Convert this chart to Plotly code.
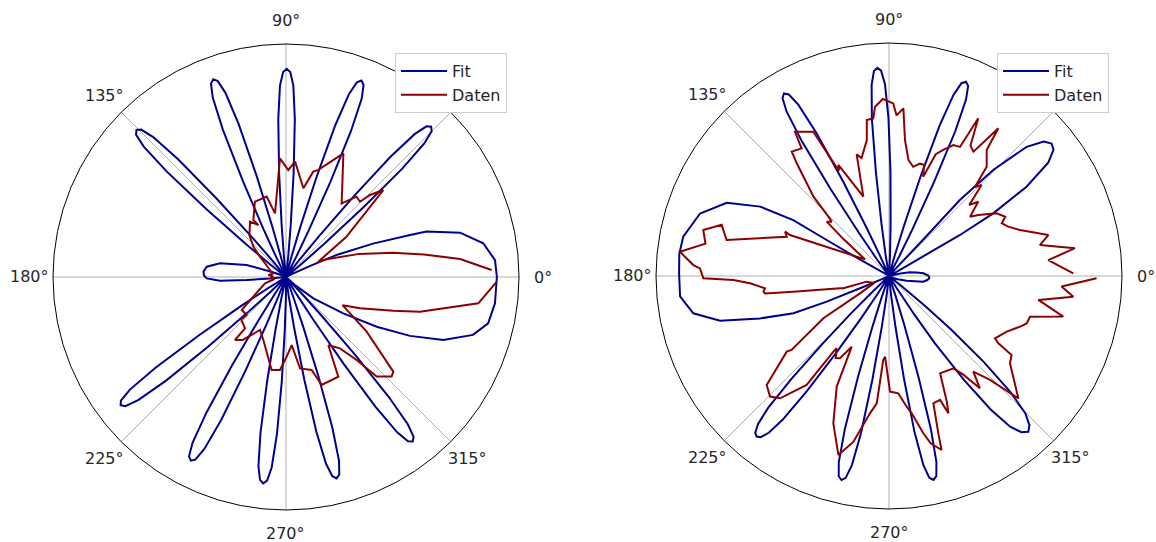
import math
import plotly.graph_objects as go

# ---------------- left panel ----------------
# Fit curve, (angle in degrees, radius) vertices in drawing order
fit_left = [
    (0, 0.905), (4.6, 0.90), (9.7, 0.859), (14.3, 0.771), (17.9, 0.634), (18.7, 0.562),
    (21, 0.40), (23.5, 0.24), (24.5, 0.12), (26, 0.03), (30, 0),
    (40, 0.09), (41, 0.224), (42, 0.449), (43, 0.682), (44, 0.825), (45, 0.884), (46, 0.897),
    (47, 0.884), (48, 0.825), (49, 0.682), (50, 0.449), (51, 0.224), (52, 0.09), (57.5, 0),
    (63, 0.09), (64, 0.226), (65, 0.452), (66, 0.686), (67, 0.831), (68, 0.889), (69, 0.903),
    (70, 0.889), (71, 0.831), (72, 0.686), (73, 0.452), (74, 0.226), (75, 0.09), (79.5, 0),
    (83.8, 0.089), (84.8, 0.223), (85.8, 0.447), (86.8, 0.679), (87.8, 0.822), (88.8, 0.88), (89.8, 0.893),
    (90.8, 0.88), (91.8, 0.822), (92.8, 0.679), (93.8, 0.447), (94.8, 0.223), (95.8, 0.089), (100, 0),
    (104.2, 0.09), (105.2, 0.226), (106.2, 0.452), (107.2, 0.687), (108.2, 0.832), (109.2, 0.89), (110.2, 0.904),
    (111.2, 0.89), (112.2, 0.832), (113.2, 0.687), (114.2, 0.452), (115.2, 0.226), (116.2, 0.09), (123, 0),
    (129.5, 0.09), (130.5, 0.225), (131.5, 0.45), (132.5, 0.684), (133.5, 0.828), (134.5, 0.887), (135.5, 0.90),
    (136.5, 0.887), (137.5, 0.828), (138.5, 0.684), (139.5, 0.45), (140.5, 0.225), (141.5, 0.09), (150, 0),
    (158, 0.02), (160, 0.06), (163, 0.177), (168.3, 0.289), (172.6, 0.343), (176.3, 0.355), (179, 0.352),
    (181, 0.34), (183.2, 0.284), (184.4, 0.169), (185.5, 0.07), (188, 0.01), (197, 0),
    (211.8, 0.09), (212.8, 0.225), (213.8, 0.449), (214.8, 0.682), (215.8, 0.826), (216.8, 0.885), (217.8, 0.898),
    (218.8, 0.885), (219.8, 0.826), (220.8, 0.682), (221.8, 0.449), (222.8, 0.225), (223.8, 0.09), (230, 0),
    (236.6, 0.089), (237.6, 0.222), (238.6, 0.444), (239.6, 0.675), (240.6, 0.817), (241.6, 0.875), (242.6, 0.888),
    (243.6, 0.875), (244.6, 0.817), (245.6, 0.675), (246.6, 0.444), (247.6, 0.222), (248.6, 0.089), (253, 0),
    (257.7, 0.089), (258.7, 0.223), (259.7, 0.446), (260.7, 0.677), (261.7, 0.82), (262.7, 0.878), (263.7, 0.891),
    (264.7, 0.878), (265.7, 0.82), (266.7, 0.677), (267.7, 0.446), (268.7, 0.223), (269.7, 0.089), (274, 0),
    (278.1, 0.089), (279.1, 0.223), (280.1, 0.446), (281.1, 0.677), (282.1, 0.82), (283.1, 0.878), (284.1, 0.891),
    (285.1, 0.878), (286.1, 0.82), (287.1, 0.677), (288.1, 0.446), (289.1, 0.223), (290.1, 0.089), (296, 0),
    (301.6, 0.089), (302.6, 0.223), (303.6, 0.446), (304.6, 0.677), (305.6, 0.82), (306.6, 0.878), (307.6, 0.891),
    (308.6, 0.878), (309.6, 0.82), (310.6, 0.677), (311.6, 0.446), (312.6, 0.223), (313.6, 0.089), (316, 0),
    (318, 0.05), (322, 0.149), (327.6, 0.291), (331.3, 0.444), (334.6, 0.589), (338.2, 0.727),
    (342.8, 0.84), (347.1, 0.89), (352.8, 0.904), (360, 0.905),
]

# Measured data (open curve, not closed at 0 deg)
data_left_theta = [
    1.95, 5.9, 9.3, 12.8, 17.5, 23.5, 25.2, 33.6, 41.8, 44.3, 45.5, 48.7, 52.9, 65.1,
    73.2, 75.5, 78.9, 85.5, 88.8, 92.9, 99.8, 103.5, 112.4, 119.8, 118.0, 123.0, 131.1,
    137.1, 142.0, 156.4, 166.0, 173.5, 178.0, 184.0, 190.0, 196.8, 211.0, 216.7, 224.0,
    223.5, 231.4, 231.0, 235.5, 243.9, 250.2, 261.2, 266.3, 270.5, 274.8, 278.7, 285.4,
    288.3, 297.7, 301.8, 307.1, 310.4, 312.3, 316.7, 318.6, 325.9, 333.5, 337.1, 342.6,
    345.5, 352.2, 358.7,
]
data_left_r = [
    0.883, 0.751, 0.60, 0.47, 0.33, 0.19, 0.152, 0.31, 0.56, 0.504, 0.453, 0.459, 0.396, 0.585,
    0.48, 0.467, 0.388, 0.497, 0.459, 0.51, 0.277, 0.355, 0.35, 0.282, 0.253, 0.283, 0.239,
    0.191, 0.142, 0.075, 0.06, 0.076, 0.055, 0.065, 0.05, 0.094, 0.164, 0.237, 0.235,
    0.265, 0.282, 0.348, 0.328, 0.253, 0.287, 0.404, 0.40, 0.342, 0.293, 0.397, 0.414,
    0.488, 0.483, 0.345, 0.384, 0.468, 0.578, 0.623, 0.614, 0.418, 0.271, 0.345, 0.483,
    0.594, 0.833, 0.904,
]

# ---------------- right panel ----------------
fit_right = [
    (0, 0.172), (4.4, 0.148), (7, 0.12), (9.9, 0.091), (12, 0.05), (15, 0.01), (22, 0),
    (29.5, 0.05), (30, 0.35), (31, 0.522), (33, 0.704), (35.5, 0.84), (37.5, 0.89), (39.2, 0.90),
    (41, 0.88), (43.2, 0.81), (45.5, 0.638), (47, 0.446), (46.8, 0.234), (47.5, 0.05), (55, 0),
    (62.4, 0.09), (63.4, 0.224), (64.4, 0.449), (65.4, 0.682), (66.4, 0.825), (67.4, 0.884), (68.4, 0.897),
    (69.4, 0.884), (70.4, 0.825), (71.4, 0.682), (72.4, 0.449), (73.4, 0.224), (74.4, 0.09), (81, 0),
    (87.2, 0.09), (88.2, 0.224), (89.2, 0.448), (90.2, 0.68), (91.2, 0.823), (92.2, 0.882), (93.2, 0.895),
    (94.2, 0.882), (95.2, 0.823), (96.2, 0.68), (97.2, 0.448), (98.2, 0.224), (99.2, 0.09), (106.5, 0),
    (113.9, 0.09), (114.9, 0.226), (115.9, 0.452), (116.9, 0.687), (117.9, 0.832), (118.9, 0.89), (119.9, 0.904),
    (120.9, 0.89), (121.9, 0.832), (122.9, 0.687), (123.9, 0.452), (124.9, 0.226), (125.9, 0.09), (135, 0),
    (148, 0.02), (150.5, 0.142), (150, 0.309), (149.7, 0.476), (151.7, 0.628), (155.7, 0.764), (161.7, 0.854),
    (169.2, 0.899), (174, 0.905), (179.3, 0.901), (185.6, 0.901), (190.8, 0.855), (194.8, 0.75),
    (198.2, 0.583), (201.3, 0.44), (202.4, 0.289), (203, 0.135), (204, 0.03), (215, 0),
    (223.5, 0.09), (224.5, 0.223), (225.5, 0.402), (226.5, 0.607), (227.5, 0.768), (228.5, 0.848), (229.5, 0.884),
    (230.5, 0.893), (231.5, 0.884), (232.5, 0.848), (233.5, 0.768), (234.5, 0.607), (235.5, 0.402),
    (236.5, 0.223), (237.5, 0.09), (243.7, 0),
    (250.9, 0.09), (251.9, 0.225), (252.9, 0.45), (253.9, 0.683), (254.9, 0.827), (255.9, 0.886), (256.9, 0.899),
    (257.9, 0.886), (258.9, 0.827), (259.9, 0.683), (260.9, 0.45), (261.9, 0.225), (262.9, 0.09), (269.6, 0),
    (276.3, 0.09), (277.3, 0.224), (278.3, 0.448), (279.3, 0.681), (280.3, 0.824), (281.3, 0.883), (282.3, 0.896),
    (283.3, 0.883), (284.3, 0.824), (285.3, 0.681), (286.3, 0.448), (287.3, 0.224), (288.3, 0.09), (297, 0),
    (302.3, 0.06), (303.3, 0.2), (304.3, 0.35), (305.8, 0.55), (307.3, 0.72), (308.8, 0.83), (310.3, 0.879),
    (311.8, 0.897), (313.3, 0.879), (314.8, 0.83), (316.3, 0.72), (317.8, 0.55), (319.3, 0.35),
    (320.3, 0.2), (321.3, 0.06), (328, 0),
    (335, 0.02), (340, 0.04), (345.2, 0.078), (350.6, 0.149), (354, 0.165), (356.7, 0.173), (360, 0.172),
]

data_right_theta = [
    0.8, 5.7, 8.5, 11.6, 14.4, 19.3, 22.5, 25.0, 27.0, 30.2, 34.3, 36.2, 39.8, 41.5, 44.5,
    46.0, 48.2, 52.2, 53.5, 55.8, 58.0, 60.5, 61.2, 63.8, 66.7, 69.0, 71.0, 72.5, 74.6, 77.5,
    80.5, 83.3, 85.1, 87.3, 88.6, 92.0, 94.7, 95.7, 98.1, 99.3, 103.1, 104.9, 107.9, 114.5,
    115.5, 117.7, 120.7, 123.1, 124.4, 128.0, 129.3, 133.6, 135.6, 136.5, 138.9, 141.0, 145.2,
    157.5, 156.9, 159.0, 167.5, 163.0, 166.1, 170.0, 173.4, 176.8, 177.7, 180.7, 181.5, 183.0,
    185.7, 187.1, 188.0, 189.3, 194.1, 195.1, 194.2, 205.0, 210.9, 212.8, 217.2, 216.5, 221.7,
    225.4, 228.3, 232.9, 233.7, 234.1, 237.0, 239.2, 242.2, 244.7, 249.3, 254.2, 257.9, 262.1,
    264.5, 266.1, 267.2, 270.5, 274.5, 277.7, 279.4, 282.3, 284.0, 286.8, 287.4, 289.2, 292.4,
    293.4, 294.7, 297.7, 304.9, 307.0, 309.0, 311.4, 314.2, 316.6, 324.2, 327.2, 328.4, 329.5,
    334.7, 338.9, 341.0, 343.9, 346.9, 350.9, 353.6, 356.5, 359.4,
]
data_right_r = [
    0.791, 0.687, 0.807, 0.661, 0.706, 0.596, 0.554, 0.534, 0.56, 0.535, 0.464, 0.431, 0.499, 0.46, 0.557,
    0.53, 0.629, 0.684, 0.789, 0.645, 0.66, 0.778, 0.632, 0.626, 0.589, 0.56, 0.451, 0.50, 0.50, 0.48,
    0.505, 0.588, 0.722, 0.69, 0.741, 0.76, 0.729, 0.68, 0.676, 0.59, 0.52, 0.54, 0.358, 0.524,
    0.50, 0.699, 0.72, 0.739, 0.664, 0.678, 0.625, 0.47, 0.364, 0.339, 0.355, 0.25, 0.125,
    0.46, 0.485, 0.47, 0.714, 0.751, 0.821, 0.80, 0.903, 0.841, 0.812, 0.797, 0.668, 0.597,
    0.535, 0.543, 0.537, 0.416, 0.217, 0.203, 0.099, 0.07, 0.145, 0.335, 0.525, 0.546, 0.703,
    0.727, 0.703, 0.586, 0.403, 0.383, 0.42, 0.411, 0.343, 0.525, 0.676, 0.798, 0.727, 0.595,
    0.549, 0.361, 0.347, 0.496, 0.505, 0.566, 0.597, 0.691, 0.74, 0.78, 0.708, 0.579, 0.575,
    0.642, 0.594, 0.472, 0.483, 0.53, 0.62, 0.547, 0.622, 0.764, 0.64, 0.626, 0.551, 0.528,
    0.559, 0.603, 0.625, 0.63, 0.768, 0.649, 0.796, 0.742, 0.891,
]

# Angular tick labels (the 45 deg label sits under the legend box)
tick_angles = [0, 45, 90, 135, 180, 225, 270, 315]
tick_labels = ["0°", "", "90°", "135°", "180°", "225°", "270°", "315°"]

FIT_COLOR = "#00008b"
DATA_COLOR = "#8b0000"
FONT = "DejaVu Sans"
TEXT_COLOR = "#262626"
W, H = 1156, 542

# Polar panels: centre (px) and outer radius (px)
panels = [
    dict(cx=286, cy=277, R=233, polar="polar", legend="legend", legx=395),
    dict(cx=889, cy=276, R=233, polar="polar2", legend="legend2", legx=997),
]
LABEL_RADIUS = 1.103  # tick label centres, in units of the outer radius

fig = go.Figure()


def add_panel(fit_pairs, d_theta, d_r, subplot, legend):
    f_theta = [p[0] for p in fit_pairs]
    f_r = [p[1] for p in fit_pairs]
    fig.add_trace(go.Scatterpolar(theta=f_theta, r=f_r, mode="lines", name="Fit",
                                  line=dict(color=FIT_COLOR, width=2),
                                  subplot=subplot, legend=legend))
    fig.add_trace(go.Scatterpolar(theta=d_theta, r=d_r, mode="lines", name="Daten",
                                  line=dict(color=DATA_COLOR, width=2),
                                  subplot=subplot, legend=legend))


add_panel(fit_left, data_left_theta, data_left_r, "polar", "legend")
add_panel(fit_right, data_right_theta, data_right_r, "polar2", "legend2")


def polar_layout(p):
    cx, cy, R = p["cx"], p["cy"], p["R"]
    return dict(
        domain=dict(x=[(cx - R) / W, (cx + R) / W], y=[1 - (cy + R) / H, 1 - (cy - R) / H]),
        bgcolor="white",
        angularaxis=dict(
            rotation=0, direction="counterclockwise",
            tickmode="array", tickvals=tick_angles,
            showticklabels=False, ticks="",
            showline=True, linecolor="black", linewidth=1,
            showgrid=True, gridcolor="#b0b0b0", gridwidth=1,
        ),
        radialaxis=dict(visible=False, range=[0, 1], showgrid=False),
    )


def legend_layout(x, y):
    return dict(
        x=x / W, y=1 - y / H, xanchor="left", yanchor="top",
        bgcolor="white", bordercolor="#cccccc", borderwidth=1,
        font=dict(family=FONT, size=16, color=TEXT_COLOR),
        tracegroupgap=0, itemwidth=46,
    )


annotations = []
for p in panels:
    for ang, lab in zip(tick_angles, tick_labels):
        if not lab:
            continue
        a = math.radians(ang)
        px = p["cx"] + LABEL_RADIUS * p["R"] * math.cos(a)
        py = p["cy"] - LABEL_RADIUS * p["R"] * math.sin(a)
        annotations.append(dict(
            text=lab, x=px / W, y=1 - py / H, xref="paper", yref="paper",
            xanchor="center", yanchor="middle", showarrow=False,
            font=dict(family=FONT, size=16, color=TEXT_COLOR),
        ))

fig.update_layout(
    width=W, height=H,
    margin=dict(l=0, r=0, t=0, b=0),
    paper_bgcolor="white",
    font=dict(family=FONT, size=16, color=TEXT_COLOR),
    polar=polar_layout(panels[0]),
    polar2=polar_layout(panels[1]),
    legend=legend_layout(panels[0]["legx"], 53),
    legend2=legend_layout(panels[1]["legx"], 53),
    annotations=annotations,
    showlegend=True,
)

fig.write_html("out.html")
